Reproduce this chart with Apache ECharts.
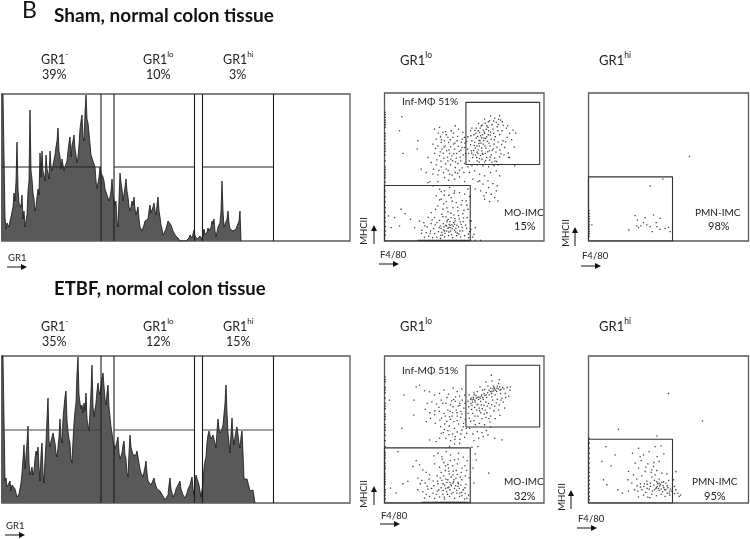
<!DOCTYPE html>
<html><head><meta charset="utf-8">
<style>html,body{margin:0;padding:0;background:#fff}#c{width:750px;height:539px}</style>
<script src="https://cdn.jsdelivr.net/npm/echarts@6/dist/echarts.min.js"></script>
</head><body><div id="c"></div>
<script>
// GR1 histogram counts per channel
const shamHist=[147,147,147,147,147,24,12,18,20,14,20,24,22,34,48,40,60,99,52,38,40,34,46,22,30,14,12,26,50,60,131,70,62,48,42,30,34,44,52,46,88,64,90,70,66,60,86,72,68,62,90,74,70,76,78,86,94,100,113,90,84,72,82,76,70,74,72,80,90,98,104,84,96,100,106,92,86,78,84,96,112,120,126,104,100,128,146,122,118,108,106,86,88,80,78,74,60,52,50,64,74,68,70,64,60,52,54,46,46,40,44,50,62,46,44,36,40,20,14,42,68,58,52,40,42,54,62,50,44,34,30,34,40,36,44,32,26,30,34,22,14,12,10,12,16,20,22,18,22,30,36,28,30,34,38,30,26,36,44,30,24,16,12,6,4,8,12,16,20,22,22,16,14,10,8,6,6,4,3,1,0,0,0,0,0,0,0,0,0,3,6,4,3,7,11,5,3,2,2,3,5,3,2,6,12,6,4,9,13,10,8,14,20,17,22,10,4,9,14,16,18,30,60,30,14,15,16,22,30,18,12,13,14,10,8,11,12,11,10,20,30,0];
const etbfHist=[147,147,147,147,147,22,25,16,18,14,22,12,18,20,20,14,10,6,6,9,8,20,30,44,58,34,32,60,77,40,28,30,36,28,32,44,52,48,56,36,22,48,60,30,20,44,60,84,105,62,56,62,66,70,72,60,50,46,46,66,84,66,60,84,96,106,112,82,72,64,60,44,40,62,80,92,100,130,146,108,100,94,98,90,100,92,110,84,78,72,70,112,138,96,86,94,100,112,120,112,108,118,125,130,132,104,98,110,118,96,86,76,70,62,60,54,56,62,66,50,44,46,50,58,62,48,44,30,26,50,68,56,52,48,50,46,48,52,52,40,34,30,30,26,28,36,42,30,22,20,24,18,16,20,25,20,18,14,15,12,12,10,10,7,6,3,2,5,8,18,25,14,10,6,6,10,14,16,18,20,22,14,12,8,8,5,4,10,14,16,18,22,26,14,8,20,28,30,30,18,12,6,4,20,35,42,46,60,68,72,72,64,62,68,70,60,55,72,84,74,70,72,74,78,80,100,118,90,70,60,50,70,85,66,58,66,72,76,78,60,55,66,72,50,24,22,22,24,25,16,12,12,12,13,13,0];
// GR1 gates, channel positions
const histGateLines=[101,114,194.5,202.5,273.5];
const histGateLevels=[[2,101],[114,194.5],[202.5,273.5]];
const histGateHeights=[74,73];
// F4/80 vs MHCII events, GR1lo Sham
const shamLoUpper=[[290,345],[302,352],[315,360],[330,368],[345,375],[348,362],[335,355],[322,348],[310,340],[296,332],[285,325],[275,338],[268,318],[258,330],[250,312],[262,300],[275,308],[288,315],[300,322],[312,330],[325,335],[338,342],[352,330],[365,338],[345,318],[332,312],[320,305],[308,298],[296,290],[284,284],[272,278],[260,270],[252,262],[266,258],[280,262],[292,270],[304,278],[316,284],[328,290],[340,296],[355,300],[368,310],[375,322],[385,332],[360,280],[346,272],[334,266],[320,258],[306,250],[292,244],[278,240],[264,250],[254,240],[300,236],[315,242],[330,248],[345,252],[358,258],[372,250],[286,300],[298,308],[270,295],[258,288],[246,298],[240,280],[294,318],[281,330],[306,312],[318,326],[291,278],[277,266],[288,256],[302,262],[314,270],[326,276],[297,300],[283,292],[269,286],[311,318],[327,322],[274,322],[262,338],[305,334],[340,330],[356,346],[342,364],[318,374],[300,365],[282,352],[293,262],[276,250],[322,236],[336,238],[284,236]];
const shamLoDense=[[293,347],[287,338],[299,326],[307,345],[279,313],[291,309],[283,301],[303,307],[317,317],[329,303],[271,331],[259,315],[313,293],[301,285],[289,293],[277,285],[267,271],[281,273],[295,259],[309,267],[323,271],[337,281],[351,289],[363,297],[371,263],[349,261],[285,247],[273,257],[261,263],[249,275],[243,261],[311,357],[327,359],[341,349],[353,357],[369,345],[381,303],[393,323],[389,281],[303,241],[317,251],[331,239],[219,313],[207,323],[197,303],[183,327],[171,303],[161,323],[153,277],[167,267],[179,281],[193,273],[207,261],[221,283],[233,305],[227,251],[213,237],[199,245],[183,231],[169,239],[157,243],[147,215],[163,211],[177,205],[191,211],[203,197],[219,203],[233,219],[189,251],[211,293],[229,271],[241,293]];
const shamLoMiddle=[[150,335],[165,340],[175,325],[185,318],[200,330],[212,345],[222,335],[235,325],[155,305],[168,312],[180,300],[192,295],[205,310],[218,300],[230,295],[240,310],[145,290],[160,285],[172,275],[186,270],[198,282],[210,275],[224,268],[236,258],[150,262],[165,255],[178,248],[190,240],[202,255],[215,248],[228,240],[240,232],[140,235],[155,228],[170,222],[185,215],[198,228],[212,220],[225,212],[238,205],[250,222],[130,250],[110,215],[125,205],[145,200],[160,198],[180,190],[195,200],[210,185],[225,192],[240,178],[100,300],[98,275],[52,372],[45,330],[55,262],[195,262],[207,290],[182,285],[170,295],[216,262],[232,280],[190,310],[204,240],[220,232],[176,262],[212,205],[192,182],[136,178],[160,178]];
const shamLoTail=[[262,225],[278,228],[295,225],[312,222],[328,226],[340,228],[255,205],[270,210],[285,200],[300,195],[318,205],[335,210],[345,195],[265,185],[280,178],[295,170],[310,180],[325,172],[338,165],[272,155],[288,150],[305,145],[320,140],[335,150],[300,125],[315,118],[330,130],[340,120],[285,180],[375,250],[390,225],[312,160],[298,135]];
const shamLoLower=[[130,175],[145,165],[165,155],[180,150],[195,160],[210,150],[225,145],[240,140],[250,155],[155,135],[170,125],[185,118],[200,130],[215,115],[230,108],[245,120],[160,105],[175,95],[190,88],[205,100],[220,90],[235,82],[250,95],[140,85],[150,70],[165,62],[50,95],[62,82],[30,70],[12,75],[78,65],[45,45],[90,40],[20,40],[105,60],[118,55],[128,42],[140,52],[152,48],[164,40],[176,52],[188,62],[200,70],[212,60],[224,66],[236,58],[248,70],[256,60],[112,32],[125,25],[138,30],[150,22],[162,28],[174,18],[186,30],[198,40],[210,32],[222,42],[234,30],[246,38],[255,28],[120,12],[132,14],[144,10],[156,12],[168,8],[180,12],[192,16],[204,10],[216,16],[228,12],[240,16],[252,10],[170,38],[178,42],[186,45],[194,50],[202,48],[190,38],[198,30],[206,44],[214,38],[180,30],[172,26],[226,30],[218,24],[230,50],[210,50],[196,58],[184,72],[172,80],[208,78],[222,76],[238,92],[170,148],[260,60],[268,20],[272,40],[264,12],[183,47],[193,41],[203,37],[187,57],[197,47],[207,55],[177,33],[167,45],[157,55],[147,37],[137,23],[169,17],[181,23],[193,27],[201,19],[213,27],[223,21],[233,41],[243,47],[251,21],[217,47],[227,57],[237,69],[211,67],[199,83],[187,99],[177,111],[165,123],[203,119],[219,101],[233,121],[247,107],[255,133],[209,143],[193,137],[179,137],[153,95],[143,63],[131,71],[121,45],[111,23],[259,35],[175,73],[191,65]];
const shamLoEdgeY=[385,370,355,340,322,305,292,276,258,240,222,206,190,176,150,132,118,100,86,70,58,44,30,18,378,362,348,314,284,268,214,198];
const shamLoBaseX=[100,104,108,112,116,120,124,128,132,136,140,144,148,152,156,160,164,168,172,176,180,184,188,192,196,200,204,208,212,216,220,224,228,232,236,240,244,248,252,258,272,288];
// GR1hi Sham
const shamHiEvents=[[303,253],[185,165],[223,185],[140,76],[147,63],[165,55],[195,78],[215,68],[121,33],[145,45],[157,45],[175,48],[185,43],[191,28],[205,43],[215,35],[230,38],[240,41],[245,28],[10,48],[203,55],[150,40],[170,70]];
const shamHiEdgeY=[90,82,74,66,58,50,44,36,28,22,14];
// GR1lo ETBF
const etbfLoUpper=[[258,312],[266,318],[274,324],[282,312],[290,322],[298,330],[306,318],[314,326],[322,336],[330,344],[338,352],[346,340],[354,348],[310,352],[294,340],[278,336],[264,304],[272,304],[280,298],[288,306],[296,312],[304,304],[262,294],[270,288],[284,286],[250,306],[300,342],[318,346],[326,352],[342,360],[358,344],[336,336],[348,330],[362,330],[372,322],[352,316],[338,312],[324,310],[312,300],[298,294],[276,280],[288,272],[302,280],[316,286],[330,292],[344,296],[356,304],[368,348],[376,340],[318,262],[304,258],[292,254],[280,262],[264,270],[254,256],[268,248],[284,240],[300,236],[316,244],[332,254],[346,264],[328,278],[342,280],[360,286],[254,326],[252,290],[290,296],[308,292],[322,320],[332,326],[268,332],[286,350],[304,364],[322,368],[344,372],[320,385],[258,246],[272,236]];
const etbfLoDense=[[260,316],[263,311],[267,313],[271,309],[275,316],[279,318],[283,320],[287,316],[291,326],[295,318],[305,326],[309,332],[313,340],[317,336],[321,330],[325,344],[329,348],[333,340],[337,346],[341,344],[345,350],[349,342],[327,338],[301,324],[269,326],[259,300],[277,296],[293,284],[307,272],[321,296],[335,302],[349,310],[363,318],[377,350],[313,254],[299,268],[285,278],[271,262],[261,282],[251,270],[241,300],[233,310],[221,292],[213,320],[201,308],[187,318],[175,300],[163,288],[151,278],[171,256],[187,246],[203,262],[217,272],[237,240],[229,208],[211,192],[193,206],[179,222],[197,276],[207,312],[225,322],[229,276]];
const etbfLoMiddle=[[95,350],[105,355],[58,325],[88,310],[15,310],[120,338],[135,335],[150,325],[165,330],[178,340],[192,328],[206,346],[218,336],[232,344],[240,325],[128,300],[142,305],[156,298],[170,310],[184,300],[198,296],[212,306],[226,294],[238,286],[122,282],[136,272],[150,266],[164,276],[178,270],[190,280],[204,272],[218,262],[232,268],[242,252],[125,245],[138,255],[152,240],[166,250],[180,238],[194,232],[208,245],[222,238],[236,230],[176,212],[190,218],[204,208],[218,214],[232,220],[246,210],[165,195],[170,210],[184,195],[198,188],[212,200],[226,192],[240,198],[135,190],[155,185],[225,180],[210,178],[195,170],[52,225],[88,265],[215,280],[225,300],[228,258],[210,225],[245,225],[205,290],[195,260],[218,248],[168,230],[182,262],[198,252]];
const etbfLoTail=[[255,225],[265,208],[278,215],[292,212],[305,218],[318,228],[268,188],[282,195],[296,200],[310,205],[330,195],[352,190],[280,170],[262,168],[275,130],[265,105],[268,60],[272,148],[312,90]];
const etbfLoLower=[[40,155],[85,110],[70,65],[55,58],[18,45],[35,30],[95,128],[105,115],[115,100],[125,92],[135,85],[148,142],[160,150],[172,140],[185,155],[198,145],[210,130],[222,150],[236,138],[248,128],[150,118],[165,108],[178,122],[190,116],[204,112],[218,118],[232,105],[246,98],[100,75],[112,68],[122,60],[134,72],[146,66],[158,82],[170,92],[182,98],[194,88],[206,96],[218,86],[230,92],[242,82],[254,76],[160,58],[172,68],[184,72],[196,62],[208,70],[220,62],[232,70],[244,56],[170,46],[180,54],[190,46],[200,52],[210,44],[220,50],[176,38],[186,34],[196,40],[206,32],[216,38],[226,30],[236,40],[100,40],[115,34],[130,42],[145,30],[158,36],[120,15],[135,20],[150,14],[165,18],[180,12],[195,20],[210,14],[225,20],[240,12],[252,24],[190,70],[192,105],[205,60],[214,74],[224,44],[200,78],[178,82],[232,22],[242,28],[148,52],[128,50],[193,48],[187,62],[199,56],[207,64],[213,52],[221,58],[229,54],[183,44],[175,58],[167,76],[163,40],[155,26],[175,26],[189,26],[201,28],[217,30],[231,32],[241,46],[193,96],[205,84],[215,98],[227,78],[183,112],[197,128],[173,132],[221,132],[241,112],[159,66],[141,44],[125,26],[107,58],[179,18],[247,14]];
const etbfLoEdgeY=[380,365,348,332,316,300,284,268,252,236,220,204,188,170,152,136,120,104,88,72,56,40,24,12,372,340,292,260,228,144,112,80,64,32];
const etbfLoBaseX=[112,116,120,124,128,132,136,140,144,148,152,154,158,160,164,168,172,174,178,180,184,186,190,192,196,198,202,204,208,210,214,216,220,222,226,228,232,234,238,240,244,248,254];
// GR1hi ETBF
const etbfHiEvents=[[240,330],[342,247],[90,222],[205,202],[52,170],[80,145],[40,125],[68,112],[45,70],[55,55],[88,40],[102,30],[120,36],[132,150],[150,165],[165,145],[182,155],[200,170],[218,172],[140,120],[158,128],[178,118],[195,110],[212,125],[226,148],[120,95],[135,85],[150,105],[170,95],[188,92],[205,98],[220,90],[118,70],[130,60],[145,72],[160,82],[175,66],[190,78],[200,85],[212,72],[225,64],[235,88],[146,52],[156,58],[166,50],[176,56],[186,60],[196,54],[206,50],[216,56],[226,46],[236,52],[246,42],[148,36],[160,40],[172,32],[182,42],[192,36],[202,44],[212,38],[222,34],[232,40],[242,30],[250,36],[258,28],[165,24],[178,18],[190,26],[204,22],[218,26],[230,20],[244,24],[268,30],[276,24],[205,64],[198,68],[212,60],[220,62],[138,40],[255,70],[262,95],[258,50],[150,18],[184,16],[232,60],[240,68],[208,58],[214,52],[204,46],[198,40],[210,44],[224,52],[228,40],[238,46],[218,42],[186,50],[176,44],[168,58],[156,48],[244,36],[252,48],[262,40],[272,20],[190,100],[196,122],[206,140],[172,108],[155,140],[236,30]];
const etbfHiEdgeY=[195,180,165,150,135,120,105,92,80,68,56,44,32,20,10];
// Scatter gates [xMin,xMax,yMin,yMax]
const infGate=[244,465,229,415];
const moGate=[0,257,0,166];
const pmnGate=[0,252,0,192];

const chart=echarts.init(document.getElementById('c'),null,{renderer:'canvas'});
const panels=[
 {left:2,top:94,width:348,height:147,x:[2,350],y:[0,147]},
 {left:384.5,top:93,width:159.5,height:148,x:[0,478],y:[0,443]},
 {left:588.5,top:93,width:160,height:148,x:[0,480],y:[0,443]},
 {left:2,top:356,width:348,height:147,x:[2,350],y:[0,147]},
 {left:384.5,top:356,width:159.5,height:147,x:[0,478],y:[0,443]},
 {left:588.5,top:356,width:160,height:147,x:[0,480],y:[0,443]}
];
const grid=panels.map(p=>({left:p.left,top:p.top,width:p.width,height:p.height,show:true,borderColor:'#595959',borderWidth:1.3,backgroundColor:'#fff'}));
const hiddenAxis=(r,i)=>({type:'value',gridIndex:i,min:r[0],max:r[1],show:false});
const xAxis=panels.map((p,i)=>hiddenAxis(p.x,i));
const yAxis=panels.map((p,i)=>hiddenAxis(p.y,i));
const series=[];
function poly(i,pts,color,w){series.push({type:'line',xAxisIndex:i,yAxisIndex:i,data:pts,symbol:'none',silent:true,z:5,lineStyle:{color:color||'#222',width:w||1.1}});}
function hist(i,vals,lvl){
 series.push({type:'line',xAxisIndex:i,yAxisIndex:i,data:vals.map((v,k)=>[k,v]),symbol:'none',silent:true,z:3,sampling:null,
  lineStyle:{color:'#111',width:0.8,join:'miter'},areaStyle:{color:'#595959',opacity:1}});
 histGateLines.forEach(x=>poly(i,[[x,0],[x,147]],'#1a1a1a',1.1));
 histGateLevels.forEach(r=>poly(i,[[r[0],lvl],[r[1],lvl]],i===0?'#222':'#444',1.1));
}
function scatter(i,pts){series.push({type:'scatter',xAxisIndex:i,yAxisIndex:i,data:pts,symbol:'rect',symbolSize:1.3,silent:true,z:4,itemStyle:{color:'#111'}});}
const rect=(i,g)=>poly(i,[[g[0],g[2]],[g[1],g[2]],[g[1],g[3]],[g[0],g[3]],[g[0],g[2]]],'#333',1.1);
const edge=ys=>ys.map(y=>[2,y]);
const base=xs=>xs.map(x=>[x,2]);
hist(0,shamHist,histGateHeights[0]);
scatter(1,[...shamLoUpper,...shamLoDense,...shamLoMiddle,...shamLoTail,...shamLoLower,...edge(shamLoEdgeY),...base(shamLoBaseX)]);
rect(1,infGate);rect(1,moGate);
scatter(2,[...shamHiEvents,...edge(shamHiEdgeY)]);
rect(2,pmnGate);
hist(3,etbfHist,histGateHeights[1]);
scatter(4,[...etbfLoUpper,...etbfLoDense,...etbfLoMiddle,...etbfLoTail,...etbfLoLower,...edge(etbfLoEdgeY),...base(etbfLoBaseX)]);
rect(4,infGate);rect(4,moGate);
scatter(5,[...etbfHiEvents,...edge(etbfHiEdgeY)]);
rect(5,pmnGate);

const FONT='Lato';
const T=(text,x,y,size,extra)=>Object.assign({type:'text',x:x,y:y,silent:true,z:20,style:Object.assign({text:text,fontFamily:FONT,fontSize:size,fill:'#222',verticalAlign:'middle',align:'left'},extra||{})});
const gr=(tag,x,y,size)=>({type:'text',x:x,y:y,silent:true,z:20,style:{text:'{m|GR1}{s|'+tag+'}',fontFamily:FONT,verticalAlign:'middle',align:'left',rich:{m:{fontFamily:FONT,fontSize:size,fill:'#222',lineHeight:16,verticalAlign:'bottom'},s:{fontFamily:FONT,fontSize:size-4.5,fill:'#222',lineHeight:16,verticalAlign:'top',padding:[0,0,5,0]}}}});
const arrowH=(x,y)=>[{type:'line',silent:true,z:20,shape:{x1:x,y1:y,x2:x+16,y2:y},style:{stroke:'#111',lineWidth:1}},{type:'polygon',silent:true,z:20,shape:{points:[[x+14,y-3],[x+20,y],[x+14,y+3]]},style:{fill:'#111'}}];
const arrowV=(x,y)=>[{type:'line',silent:true,z:20,shape:{x1:x,y1:y+19,x2:x,y2:y+4},style:{stroke:'#111',lineWidth:1}},{type:'polygon',silent:true,z:20,shape:{points:[[x-3,y+6],[x,y],[x+3,y+6]]},style:{fill:'#111'}}];
const vtxt=(t,x,y)=>({type:'text',x:x,y:y,rotation:Math.PI/2,silent:true,z:20,style:{text:t,fontFamily:FONT,fontSize:9.5,fill:'#222',align:'center',verticalAlign:'middle'}});
const g=[
 T('B',22,11,23,{fill:'#111'}),
 T('Sham, normal colon tissue',54,16,19,{fontWeight:'bold',fill:'#111'}),
 T('ETBF, normal colon tissue',54,289,18.5,{fontWeight:'bold',fill:'#111'}),
 gr('-',41,58,12.5),T('39%',42,75,12.5),gr('lo',143,58,12.5),T('10%',146,75,12.5),gr('hi',223,58,12.5),T('3%',229,75,12.5),
 gr('-',41,325,12.5),T('35%',42,342,12.5),gr('lo',143,325,12.5),T('12%',146,342,12.5),gr('hi',223,325,12.5),T('15%',226,342,12.5),
 gr('lo',400,59,13),gr('hi',599,59,13),gr('lo',400,325,13),gr('hi',599,325,13),
 T('Inf-MΦ 51%',402,102,10.2),T('Inf-MΦ 51%',402,371,10.2),
 T('MO-IMC',504,213,10),T('15%',514,226,11),T('MO-IMC',504,482,10),T('32%',514,496,11),
 T('PMN-IMC',695,213,10),T('98%',708,226,11),T('PMN-IMC',692,482,10),T('95%',704,496,11),
 T('GR1',8,258,9.5),T('GR1',6,526,9.5),
 T('F4/80',380,255,9.5),T('F4/80',582,256,9.5),T('F4/80',381,516,9.5),T('F4/80',578,519,9.5),
 vtxt('MHCII',364,231),vtxt('MHCII',566,233),vtxt('MHCII',364,494),vtxt('MHCII',562,497),
 ...arrowH(7,267),...arrowH(5,535),
 ...arrowH(379,264),...arrowH(581,266),...arrowH(380,524),...arrowH(577,528),
 ...arrowV(374,225),...arrowV(575,227),...arrowV(374,486),...arrowV(571,490)
];
chart.setOption({animation:false,backgroundColor:'#fff',grid,xAxis,yAxis,series,graphic:g});
</script></body></html>
